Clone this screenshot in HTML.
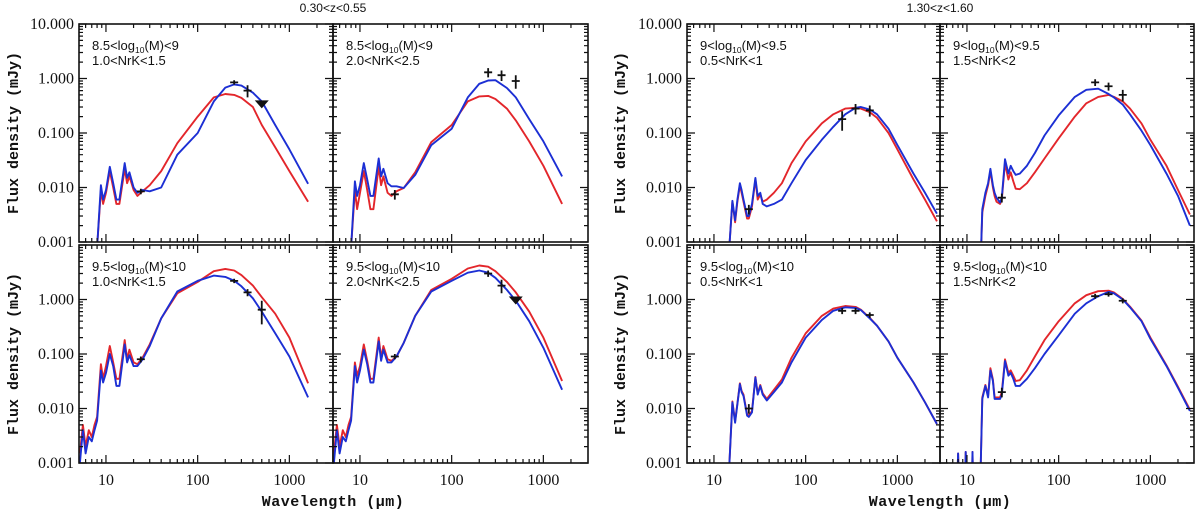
<!DOCTYPE html>
<html><head><meta charset="utf-8"><style>
html,body{margin:0;padding:0;background:#fff;}
svg{display:block;}
.tl{font-family:"Liberation Serif",serif;font-size:16px;fill:#111;}
.pl{font-family:"Liberation Sans",sans-serif;font-size:13px;fill:#111;}
.ttl{font-family:"Liberation Sans",sans-serif;font-size:12px;fill:#111;}
.ax{font-family:"Liberation Mono",monospace;font-weight:bold;font-size:15px;fill:#111;}
</style></head><body>
<svg id="chart" width="1200" height="524" viewBox="0 0 1200 524" xmlns="http://www.w3.org/2000/svg"></svg>
<script>
// ---------- data ----------
const lamL = [5.2,5.6,6,6.5,7,7.5,8,8.8,9.3,10,11,12,13,14,16,17,18,20,22,25,30,40,60,100,150,200,250,300,400,500,700,1000,1600];
const lamR = [7.8,8,8.2,9.5,9.7,9.9,11.3,11.5,11.7,14,14.7,15.9,17,18,19.2,20,21,23,24,26,28.3,30,32,34,37.7,45,55,70,100,150,200,270,350,400,500,600,800,1000,1500,2000,2700];
const lo = [3e-4,3e-4,3e-4,3e-4,3e-4,3e-4];
const loR = [3e-4,3e-4,3e-4,3e-4,3e-4,3e-4,3e-4,3e-4,3e-4];
const blueA = lo.concat([8e-4,.011,.006,.009,.024,.012,.006,.006,.028,.015,.019,.01,.008,.009,.0085,.01,.04,.1,.38,.68,.78,.74,.55,.38,.14,.05,.0117]);
const redA  = lo.concat([8e-4,.009,.005,.008,.02,.01,.005,.005,.022,.012,.016,.009,.007,.0085,.011,.02,.065,.2,.45,.52,.5,.44,.3,.14,.055,.02,.0055]);
const blueB = lo.concat([8e-4,.013,.007,.011,.028,.014,.007,.007,.034,.016,.022,.012,.0105,.0105,.0098,.017,.06,.12,.45,.8,.92,.93,.67,.45,.18,.07,.016]);
const redB  = lo.concat([8e-4,.009,.004,.008,.02,.009,.004,.004,.024,.011,.016,.008,.007,.0085,.0098,.019,.068,.14,.38,.47,.48,.42,.28,.17,.07,.025,.005]);
const blueC = [.001,.004,.0015,.003,.0025,.004,.006,.05,.03,.045,.1,.06,.026,.026,.15,.07,.095,.06,.06,.079,.14,.45,1.4,2.2,2.75,2.6,2.2,1.75,1.05,.6,.24,.09,.016];
const redC  = [.0015,.005,.002,.004,.003,.005,.007,.065,.035,.06,.14,.07,.035,.035,.18,.08,.12,.07,.065,.085,.15,.45,1.3,2.1,3.3,3.65,3.4,2.8,1.8,1.1,.55,.2,.029];
const blueD = [.001,.004,.0015,.003,.0025,.004,.006,.06,.03,.05,.12,.065,.03,.03,.17,.075,.12,.07,.07,.09,.16,.5,1.4,2.2,3.1,3.4,3.1,2.5,1.5,.95,.4,.13,.022];
const redD  = [.0015,.005,.002,.004,.003,.005,.007,.07,.04,.06,.15,.075,.035,.035,.2,.085,.14,.08,.075,.09,.16,.5,1.5,2.4,3.7,4.2,4.0,3.3,2.1,1.35,.6,.2,.032];
const blueE = loR.concat([3e-4,8e-4,.0057,.0025,.006,.012,.009,.006,.003,.003,.005,.015,.007,.008,.005,.0045,.005,.006,.012,.032,.075,.13,.22,.29,.3,.27,.22,.12,.06,.018,.008,.0033]);
const redE  = loR.concat([3e-4,8e-4,.0055,.0023,.0055,.011,.008,.0055,.0027,.0027,.0045,.014,.006,.0075,.0055,.006,.008,.012,.028,.07,.15,.22,.28,.29,.28,.24,.19,.1,.05,.014,.006,.0024]);
const blueF = loR.concat([3e-4,.004,.008,.012,.022,.011,.008,.0065,.0053,.0065,.033,.018,.025,.02,.017,.018,.025,.043,.09,.21,.46,.62,.65,.52,.45,.33,.22,.11,.06,.018,.007,.002]);
const redF  = loR.concat([3e-4,.0035,.007,.011,.02,.01,.007,.0055,.005,.006,.028,.014,.019,.013,.0095,.0093,.012,.019,.034,.08,.2,.35,.46,.5,.46,.38,.28,.15,.075,.025,.009,.0032]);
const blueG = loR.concat([4e-4,9e-4,.013,.0055,.012,.028,.02,.017,.0074,.007,.0085,.037,.018,.026,.018,.014,.02,.03,.07,.2,.42,.62,.72,.7,.64,.45,.33,.17,.085,.03,.013,.0052]);
const redG  = loR.concat([4e-4,9e-4,.0135,.0058,.0125,.029,.021,.018,.0078,.0074,.009,.038,.019,.027,.019,.015,.022,.034,.085,.24,.5,.68,.76,.73,.65,.46,.33,.17,.085,.03,.013,.0052]);
const blueH = [3e-4,.0015,3e-4,3e-4,.0016,3e-4,3e-4,.0016,3e-4,5e-4,.015,.026,.016,.05,.032,.015,.015,.015,.018,.074,.04,.045,.035,.026,.026,.035,.055,.1,.22,.55,.85,1.15,1.38,1.3,1.0,.72,.4,.19,.06,.024,.009];
const redH  = [3e-4,.0015,3e-4,3e-4,.0016,3e-4,3e-4,.0016,3e-4,5e-4,.016,.027,.017,.055,.034,.016,.016,.016,.02,.08,.045,.05,.04,.032,.033,.05,.09,.18,.4,.85,1.2,1.42,1.45,1.35,1.02,.74,.41,.2,.062,.025,.0095];
// photometry points
const ptLamA = [24,250,350], ptFluxA = [.0085,.85,.6], ptErrA = [.001,.08,.15];
const ptLamB = [24,250,350,500], ptFluxB = [.0075,1.3,1.15,.9], ptErrB = [.0015,.25,.25,.25];
const ptLamC = [24,250,350,500], ptFluxC = [.08,2.2,1.35,.65], ptErrC = [.01,.2,.2,.3];
const ptLamD = [24,250,350], ptFluxD = [.09,3.0,1.8], ptErrD = [.01,.4,.5];
const ptLamE = [24,250,350,500], ptFluxE = [.004,.18,.28,.26], ptErrE = [.0008,.07,.06,.06];
const ptLamF = [24,250,350,500], ptFluxF = [.0065,.85,.72,.5], ptErrF = [.0012,.12,.12,.12];
const ptLamG = [24,250,350,500], ptFluxG = [.01,.62,.62,.52], ptErrG = [.002,.08,.08,.06];
const ptLamH = [24,250,350,500], ptFluxH = [.02,1.15,1.25,.95], ptErrH = [.004,.12,.12,.1];
const limLamA = [500], limFluxA = [.35];
const limLamD = [500], limFluxD = [1.0];
const yTickLabels = ["10.000","1.000","0.100","0.010","0.001"];
const xTickLabels = ["10","100","1000"];

// ---------- drawing ----------
const NS = "http://www.w3.org/2000/svg";
const svg = document.getElementById("chart");
const DEC_X = 91.7, DEC_Y = 54.5, LX0 = 0.706, LX1 = 3.475;
function el(tag, attrs, parent){const e=document.createElementNS(NS,tag);for(const k in attrs)e.setAttribute(k,attrs[k]);(parent||svg).appendChild(e);return e;}
function xs(p,l){return p.x+(Math.log10(l)-LX0)*DEC_X;}
function ys(p,f){return p.y+(1-Math.log10(f))*DEC_Y;}

const panels = [
 {id:"a",x:79,y:24,w:254,col:0,row:0,lam:lamL,blue:blueA,red:redA,pl:ptLamA,pf:ptFluxA,pe:ptErrA,ll:limLamA,lf:limFluxA,t1:["8.5<log","(M)<9"],t2:"1.0<NrK<1.5"},
 {id:"b",x:333,y:24,w:255,col:1,row:0,lam:lamL,blue:blueB,red:redB,pl:ptLamB,pf:ptFluxB,pe:ptErrB,ll:[],lf:[],t1:["8.5<log","(M)<9"],t2:"2.0<NrK<2.5"},
 {id:"c",x:79,y:245,w:254,col:0,row:1,lam:lamL,blue:blueC,red:redC,pl:ptLamC,pf:ptFluxC,pe:ptErrC,ll:[],lf:[],t1:["9.5<log","(M)<10"],t2:"1.0<NrK<1.5"},
 {id:"d",x:333,y:245,w:255,col:1,row:1,lam:lamL,blue:blueD,red:redD,pl:ptLamD,pf:ptFluxD,pe:ptErrD,ll:limLamD,lf:limFluxD,t1:["9.5<log","(M)<10"],t2:"2.0<NrK<2.5"},
 {id:"e",x:687,y:24,w:253,col:0,row:0,lam:lamR,blue:blueE,red:redE,pl:ptLamE,pf:ptFluxE,pe:ptErrE,ll:[],lf:[],t1:["9<log","(M)<9.5"],t2:"0.5<NrK<1"},
 {id:"f",x:940,y:24,w:254,col:1,row:0,lam:lamR,blue:blueF,red:redF,pl:ptLamF,pf:ptFluxF,pe:ptErrF,ll:[],lf:[],t1:["9<log","(M)<9.5"],t2:"1.5<NrK<2"},
 {id:"g",x:687,y:245,w:253,col:0,row:1,lam:lamR,blue:blueG,red:redG,pl:ptLamG,pf:ptFluxG,pe:ptErrG,ll:[],lf:[],t1:["9.5<log","(M)<10"],t2:"0.5<NrK<1"},
 {id:"h",x:940,y:245,w:254,col:1,row:1,lam:lamR,blue:blueH,red:redH,pl:ptLamH,pf:ptFluxH,pe:ptErrH,ll:[],lf:[],t1:["9.5<log","(M)<10"],t2:"1.5<NrK<2"}
];
const PH = 4*DEC_Y;
const defs = el("defs",{});

panels.forEach(p=>{
  const g = el("g",{});
  
  
  const cp = el("clipPath",{id:"cp"+p.id},defs);
  el("rect",{x:p.x,y:p.y,width:p.w,height:PH},cp);
  [["red","#e3262b"],["blue","#1c2fd4"]].forEach(([nm,c])=>{
    const d = p.lam.map((l,i)=>(i?"L":"M")+xs(p,l).toFixed(1)+","+ys(p,p[nm][i]).toFixed(1)).join(" ");
    const path = el("path",{d:d,fill:"none",stroke:c,"stroke-width":1.9,"stroke-linejoin":"round","clip-path":"url(#cp"+p.id+")"},g);
    
    
  });
  p.pl.forEach((l,i)=>{
    const cx=xs(p,l), cy=ys(p,p.pf[i]);
    const y1=ys(p,p.pf[i]+p.pe[i]), y2=ys(p,Math.max(p.pf[i]-p.pe[i],1e-4));
    const pt = el("path",{d:`M${cx-4},${cy} L${cx+4},${cy} M${cx},${y1} L${cx},${y2}`,stroke:"#111","stroke-width":1.8,fill:"none"},g);
    
    
  });
  p.ll.forEach((l,i)=>{
    const cx=xs(p,l), cy=ys(p,p.lf[i]);
    const tri = el("path",{d:`M${cx-7},${cy-3} L${cx+7},${cy-3} L${cx},${cy+5} Z`,fill:"#111"},g);
    
    
  });
  const fr = el("rect",{x:p.x,y:p.y,width:p.w,height:PH,fill:"none",stroke:"#111","stroke-width":1.6},g);
  
  
  let td="";
  for(let e=0;e<=3;e++)for(let m=1;m<=9;m++){
    const lv=Math.log10(m*Math.pow(10,e)); if(lv<LX0||lv>LX1)continue;
    const x=p.x+(lv-LX0)*DEC_X, L=m===1?8:4;
    td+=`M${x},${p.y+PH}v${-L}M${x},${p.y}v${L}`;
  }
  for(let e=-3;e<=1;e++)for(let m=1;m<=9;m++){
    const lv=Math.log10(m)+e; if(lv>1)continue;
    const y=p.y+(1-lv)*DEC_Y, L=m===1?8:4;
    td+=`M${p.x},${y}h${L}M${p.x+p.w},${y}h${-L}`;
  }
  const tk = el("path",{d:td,stroke:"#111","stroke-width":1.2,fill:"none"},g);
  
  
  const t = el("text",{x:p.x+13,y:p.y+26,class:"pl"},g);
  
  
  t.appendChild(document.createTextNode(p.t1[0]));
  const sub = el("tspan",{"font-size":"8.5px",dy:"3"},t); sub.textContent="10";
  const rest = el("tspan",{dy:"-3"},t); rest.textContent=p.t1[1];
  const t2 = el("text",{x:p.x+13,y:p.y+41,class:"pl"},g);
  
  
  t2.textContent=p.t2;
  if(p.col===0){
    yTickLabels.forEach((s,i)=>{
      if(p.row===1&&i===0)return;
      const yt = el("text",{x:p.x-5,y:p.y+i*DEC_Y+5,class:"tl","text-anchor":"end"},g);
      
      
      yt.textContent=s;
    });
  }
  if(p.row===1){
    xTickLabels.forEach((s,i)=>{
      const xt = el("text",{x:p.x+(1+i-LX0)*DEC_X,y:p.y+PH+22,class:"tl","text-anchor":"middle"},g);
      
      
      xt.textContent=s;
    });
  }
});

[[333,"0.30<z<0.55",18],[940,"1.30<z<1.60",625]].forEach(([cx,s,yx])=>{
  const t = el("text",{x:cx,y:12,class:"ttl","text-anchor":"middle"});
  
  
  t.textContent=s;
  const xt = el("text",{x:cx,y:506,class:"ax","text-anchor":"middle","letter-spacing":"0.5"});
  
  
  xt.textContent="Wavelength (μm)";
  [133,354].forEach(cy=>{
    const yt = el("text",{x:yx,y:cy,class:"ax","text-anchor":"middle","font-size":"15px",transform:`rotate(-90 ${yx} ${cy})`});
    
    
    yt.textContent="Flux density (mJy)";
  });
});
</script>
</body></html>
